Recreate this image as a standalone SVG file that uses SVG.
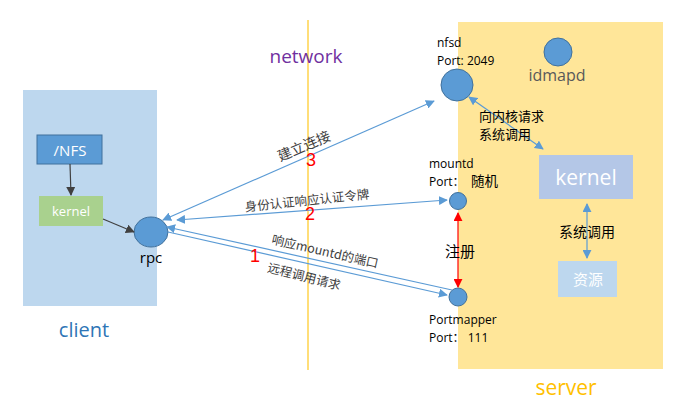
<svg xmlns="http://www.w3.org/2000/svg" width="689" height="415" viewBox="0 0 689 415">
<defs>
<style>
.lbl{font-family:"Open Sans","Liberation Sans","Noto Sans CJK SC",sans-serif;font-size:12px;fill:#000}
.cjk{font-family:"Noto Sans CJK SC","Liberation Sans",sans-serif;fill:#000}
.edge{font-family:"Noto Sans CJK SC","Liberation Sans",sans-serif;font-size:12.5px;fill:#404040}
.num{font-family:"Liberation Sans",sans-serif;font-size:18px;fill:#ff0000}
.blue{stroke:#5b9bd5;stroke-width:1.2;fill:none}
.node{fill:#5b9bd5;stroke:#41719c;stroke-width:1}
</style>
<marker id="ab" viewBox="0 0 10 10" refX="9" refY="5" markerWidth="9" markerHeight="9" markerUnits="userSpaceOnUse" orient="auto-start-reverse"><path d="M0,0L10,5L0,10z" fill="#5b9bd5"/></marker>
<marker id="ar" viewBox="0 0 10 10" refX="9" refY="5" markerWidth="9" markerHeight="9" markerUnits="userSpaceOnUse" orient="auto-start-reverse"><path d="M0,0L10,5L0,10z" fill="#ff0000"/></marker>
<marker id="ad" viewBox="0 0 10 10" refX="9" refY="5" markerWidth="9" markerHeight="9" markerUnits="userSpaceOnUse" orient="auto-start-reverse"><path d="M0,0L10,5L0,10z" fill="#404040"/></marker>
</defs>
<rect width="689" height="415" fill="#fff"/>
<g id="client">
<rect x="23" y="90" width="134" height="216" fill="#bdd7ee"/>
<text x="84" y="337" text-anchor="middle" font-family="Open Sans,Liberation Sans,sans-serif" font-size="20" fill="#2e75b6">client</text>
</g>
<g id="server">
<rect x="458" y="22" width="205" height="347" fill="#ffe699"/>
<text x="566" y="395" text-anchor="middle" font-family="Open Sans,Liberation Sans,sans-serif" font-size="21" fill="#ffc000">server</text>
</g>
<g id="network">
<line x1="308" y1="20" x2="308" y2="370" stroke="#ffd34d" stroke-width="1.5"/>
<text x="306" y="63" text-anchor="middle" font-family="Open Sans,Liberation Sans,sans-serif" font-size="19" fill="#7030a0">network</text>
</g>
<g id="nfs">
<rect x="37" y="135" width="65" height="29" fill="#5b9bd5" stroke="#41719c" stroke-width="1"/>
<text x="70" y="156" text-anchor="middle" font-family="Open Sans,Liberation Sans,sans-serif" font-size="15" fill="#fff">/NFS</text>
</g>
<g id="client-kernel">
<rect x="39" y="196" width="64" height="30" fill="#a9d18e"/>
<text x="71" y="216" text-anchor="middle" font-family="Open Sans,Liberation Sans,sans-serif" font-size="13" fill="#fff">kernel</text>
</g>
<g id="rpc">
<ellipse cx="151" cy="232" rx="17" ry="15" class="node"/>
<text x="151" y="263" text-anchor="middle" font-family="Open Sans,Liberation Sans,sans-serif" font-size="15" fill="#000">rpc</text>
</g>
<g id="nfsd">
<circle cx="457" cy="85" r="16" class="node"/>
<text x="437" y="47" class="lbl">nfsd</text>
<text x="437" y="65" class="lbl">Port: 2049</text>
</g>
<g id="idmapd">
<circle cx="558" cy="52" r="14" class="node"/>
<text x="557" y="81" text-anchor="middle" font-family="Open Sans,Liberation Sans,sans-serif" font-size="16" fill="#595959">idmapd</text>
</g>
<g id="server-kernel">
<rect x="539" y="155" width="94" height="44" fill="#b4c7e7"/>
<text x="586" y="185" text-anchor="middle" font-family="Open Sans,Liberation Sans,sans-serif" font-size="21" fill="#fff">kernel</text>
</g>
<g id="resource">
<rect x="558" y="261" width="59" height="36" fill="#bdd7ee"/>
<text x="588" y="285" text-anchor="middle" class="cjk" font-size="15" style="fill:#fff">资源</text>
</g>
<g id="mountd">
<circle cx="458" cy="201" r="8.5" class="node"/>
<text x="429" y="168" class="lbl">mountd</text>
<text x="429" y="186" class="lbl">Port：</text>
<text x="471" y="186" class="cjk" font-size="13.5">随机</text>
</g>
<g id="portmapper">
<circle cx="458" cy="297" r="9" class="node"/>
<text x="429" y="324" class="lbl">Portmapper</text>
<text x="429" y="342" class="lbl">Port：  111</text>
</g>
<g id="connectors">
<line x1="70" y1="164" x2="71" y2="195" stroke="#404040" stroke-width="1.2" marker-end="url(#ad)"/>
<line x1="103" y1="219" x2="134" y2="232" stroke="#404040" stroke-width="1.2" marker-end="url(#ad)"/>
<line x1="163" y1="220" x2="434" y2="101" class="blue" marker-start="url(#ab)" marker-end="url(#ab)"/>
<line x1="177" y1="220" x2="447" y2="200" class="blue" marker-start="url(#ab)" marker-end="url(#ab)"/>
<line x1="452" y1="290" x2="167" y2="227" class="blue" marker-end="url(#ab)"/>
<line x1="168" y1="232" x2="447" y2="295" class="blue" marker-end="url(#ab)"/>
<line x1="458" y1="213" x2="458" y2="287" stroke="#ff0000" stroke-width="1.2" marker-start="url(#ar)" marker-end="url(#ar)"/>
<line x1="469" y1="97" x2="543" y2="149" class="blue" marker-start="url(#ab)" marker-end="url(#ab)"/>
<line x1="587" y1="204" x2="587" y2="258" class="blue" marker-start="url(#ab)" marker-end="url(#ab)"/>
<text x="304" y="151" text-anchor="middle" class="edge" transform="rotate(-23 304 146)" style="font-size:14px">建立连接</text>
<text x="311" y="166" text-anchor="middle" class="num">3</text>
<text x="307" y="205" text-anchor="middle" class="edge" transform="rotate(-6 307 201)">身份认证响应认证令牌</text>
<text x="310" y="220" text-anchor="middle" class="num">2</text>
<text x="325" y="256" text-anchor="middle" class="edge" transform="rotate(13 325 252)">响应mountd的端口</text>
<text x="304" y="281" text-anchor="middle" class="edge" transform="rotate(14 304 277)">远程调用请求</text>
<text x="255" y="262" text-anchor="middle" class="num">1</text>
<text x="445" y="257" class="cjk" font-size="15">注册</text>
<text x="479" y="121" class="cjk" font-size="13">向内核请求</text>
<text x="479" y="139" class="cjk" font-size="13">系统调用</text>
<text x="587" y="237" text-anchor="middle" class="cjk" font-size="14">系统调用</text>
</g>
</svg>
